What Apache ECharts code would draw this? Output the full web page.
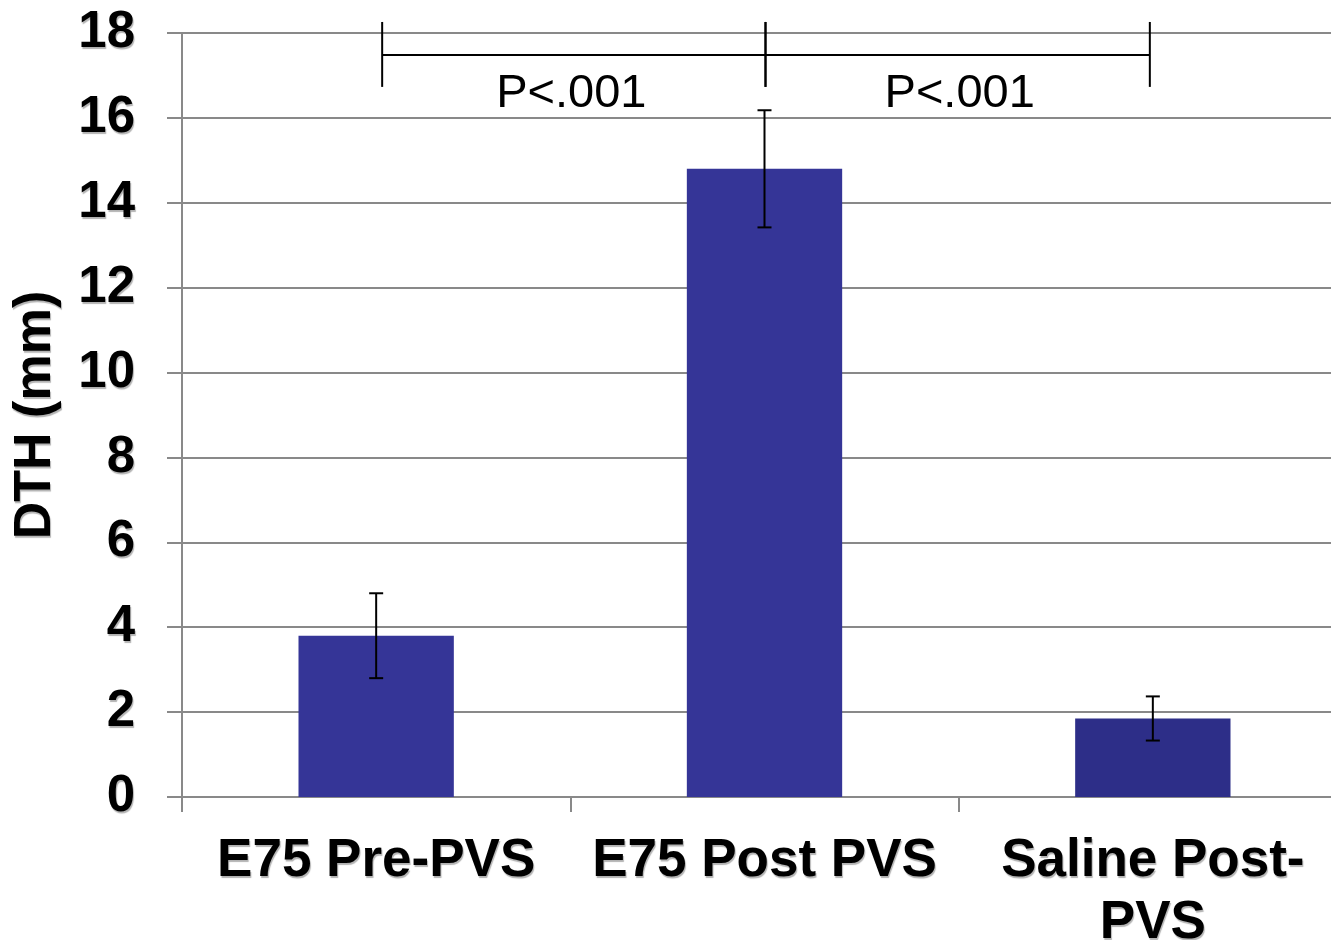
<!DOCTYPE html>
<html>
<head>
<meta charset="utf-8">
<script src="https://cdn.jsdelivr.net/npm/echarts@6/dist/echarts.min.js"></script>
<style>
  html, body { margin: 0; padding: 0; background: #fff; }
  #chart { width: 1331px; height: 940px; }
</style>
</head>
<body>
<div id="chart"></div>
<script>
// Groups and mean DTH values with their error half-widths (mm)
var categories = ['E75 Pre-PVS', 'E75 Post PVS', 'Saline Post-\nPVS'];
var dthMeans = [3.8, 14.8, 1.85];
var dthErrors = [1.0, 1.38, 0.52];
var barColors = ['#353597', '#353597', '#2D2E88'];
var yTicks = { min: 0, max: 18, interval: 2 };

// Significance brackets: pairs of category indices and their p-value text
var bracketPairs = [[0, 1], [1, 2]];
var bracketLabels = ['P<.001', 'P<.001'];
var bracketLevels = { top: 18.26, line: 17.48, bottom: 16.73, text: 16.56 };

var FONT = 'Arial, "Liberation Sans", sans-serif';
var shadow = { textShadowColor: 'rgba(0,0,0,0.3)', textShadowOffsetX: 1, textShadowOffsetY: 2, textShadowBlur: 1 };

var chart = echarts.init(document.getElementById('chart'), null, { renderer: 'canvas' });

var option = {
  animation: false,
  backgroundColor: '#ffffff',
  grid: { left: 182, right: -16, top: 33, bottom: 143, containLabel: false, outerBoundsMode: 'none' },
  xAxis: {
    type: 'category',
    data: categories,
    boundaryGap: true,
    axisLine: { show: true, lineStyle: { color: '#898989', width: 2 } },
    axisTick: { show: true, length: 15, lineStyle: { color: '#898989', width: 2 } },
    axisLabel: Object.assign({
      color: '#000', fontFamily: FONT, fontWeight: 'bold', fontSize: 53,
      lineHeight: 62, margin: 33, interval: 0
    }, shadow),
    splitLine: { show: false }
  },
  yAxis: {
    type: 'value',
    min: yTicks.min, max: yTicks.max, interval: yTicks.interval,
    name: 'DTH (mm)',
    nameLocation: 'middle',
    nameGap: 120,
    nameRotate: 90,
    nameTextStyle: Object.assign({ color: '#000', fontFamily: FONT, fontWeight: 'bold', fontSize: 52 }, shadow),
    axisLine: { show: true, lineStyle: { color: '#898989', width: 2 } },
    axisTick: { show: true, length: 15, lineStyle: { color: '#898989', width: 2 } },
    axisLabel: Object.assign({ color: '#000', fontFamily: FONT, fontWeight: 'bold', fontSize: 51, margin: 47 }, shadow),
    splitLine: { show: true, lineStyle: { color: '#898989', width: 2 } }
  },
  series: [
    {
      type: 'bar',
      barWidth: '40%',
      data: dthMeans.map(function (v, i) { return { value: v, itemStyle: { color: barColors[i] } }; }),
      z: 2
    },
    {
      // error bars: mean ± half-width with caps
      type: 'custom',
      z: 3,
      data: dthMeans.map(function (v, i) { return [i, v - dthErrors[i], v + dthErrors[i]]; }),
      renderItem: function (params, api) {
        var lo = api.coord([api.value(0), api.value(1)]);
        var hi = api.coord([api.value(0), api.value(2)]);
        var cap = 7;
        var st = { stroke: '#000', lineWidth: 2 };
        return {
          type: 'group',
          children: [
            { type: 'line', shape: { x1: hi[0], y1: hi[1], x2: lo[0], y2: lo[1] }, style: st },
            { type: 'line', shape: { x1: hi[0] - cap, y1: hi[1], x2: hi[0] + cap, y2: hi[1] }, style: st },
            { type: 'line', shape: { x1: lo[0] - cap, y1: lo[1], x2: lo[0] + cap, y2: lo[1] }, style: st }
          ]
        };
      }
    },
    {
      // significance brackets between groups; outer ends sit slightly inward
      type: 'custom',
      z: 4,
      clip: false,
      data: bracketPairs.map(function (p, i) { return [p[0], p[1], i]; }),
      renderItem: function (params, api) {
        var a = api.value(0), b = api.value(1), k = api.value(2);
        var last = categories.length - 1;
        var xa = api.coord([a, 0])[0] + 1 + (a === 0 ? 5 : 0);
        var xb = api.coord([b, 0])[0] + 1 - (b === last ? 4 : 0);
        var yTop = api.coord([a, bracketLevels.top])[1];
        var yBot = api.coord([a, bracketLevels.bottom])[1];
        var yLine = api.coord([a, bracketLevels.line])[1];
        var yText = api.coord([a, bracketLevels.text])[1];
        var mid = (api.coord([a, 0])[0] + api.coord([b, 0])[0]) / 2;
        var st = { stroke: '#000', lineWidth: 2 };
        return {
          type: 'group',
          children: [
            { type: 'line', shape: { x1: xa, y1: yTop, x2: xa, y2: yBot }, style: st },
            { type: 'line', shape: { x1: xb, y1: yTop, x2: xb, y2: yBot }, style: st },
            { type: 'line', shape: { x1: xa, y1: yLine, x2: xb, y2: yLine }, style: st },
            {
              type: 'text',
              style: {
                x: mid + 1, y: yText,
                text: bracketLabels[k],
                fill: '#000',
                font: 'normal 47px ' + FONT,
                align: 'center', verticalAlign: 'middle'
              }
            }
          ]
        };
      }
    }
  ]
};

chart.setOption(option);
</script>
</body>
</html>
